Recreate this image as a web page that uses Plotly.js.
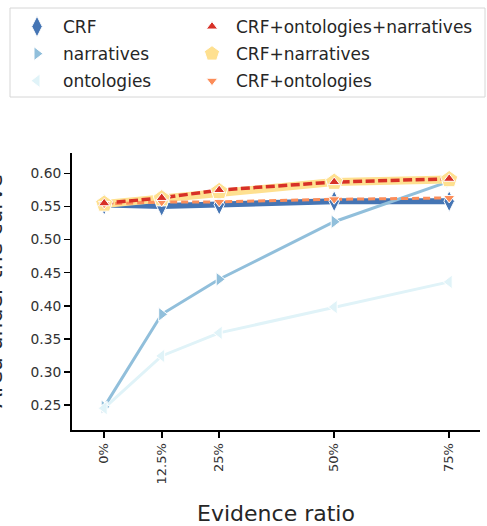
<!DOCTYPE html>
<html>
<head>
<meta charset="utf-8">
<script src="https://cdn.plot.ly/plotly-3.0.1.min.js"></script>
<style>html,body{margin:0;padding:0;background:#fff;}#chart{width:487px;height:526px;}</style>
</head>
<body>
<div id="chart"></div>
<script>
// ---- data ----
const evidenceRatio = [0, 12.5, 25, 50, 75];
const tickLabels = ['0%', '12.5%', '25%', '50%', '75%'];
const seriesNames = ['CRF', 'narratives', 'ontologies', 'CRF+ontologies+narratives', 'CRF+narratives', 'CRF+ontologies'];
const crf = [0.553, 0.551, 0.553, 0.558, 0.558];
const narratives = [0.247, 0.387, 0.440, 0.527, 0.588];
const ontologies = [0.245, 0.324, 0.359, 0.398, 0.436];
const crfOntNarr = [0.555, 0.563, 0.575, 0.587, 0.592];
const crfNarr = [0.554, 0.562, 0.573, 0.587, 0.591];
const crfOnt = [0.554, 0.557, 0.557, 0.561, 0.563];

// ---- styles ----
const FONT = 'DejaVu Sans, Liberation Sans, sans-serif';
const TXT = '#262626';
const styles = {
  'CRF': {y: crf, color: '#4575b4', width: 6, dash: 'solid', symbol: 'diamond-tall', size: 15, legend: 'legend', rank: 1},
  'narratives': {y: narratives, color: '#91bfdb', width: 3, dash: 'solid', symbol: 'triangle-right', size: 12, legend: 'legend', rank: 2},
  'ontologies': {y: ontologies, color: '#e0f3f8', width: 3, dash: 'solid', symbol: 'triangle-left', size: 12, legend: 'legend', rank: 3},
  'CRF+narratives': {y: crfNarr, color: '#fee090', width: 8, dash: 'solid', symbol: 'pentagon', size: 18, legend: 'legend2', rank: 2},
  'CRF+ontologies': {y: crfOnt, color: '#fc8d59', width: 3, dash: '7px,4px', symbol: 'triangle-down', size: 10, legend: 'legend2', rank: 3},
  'CRF+ontologies+narratives': {y: crfOntNarr, color: '#d73027', width: 3.5, dash: '9px,3.5px', symbol: 'triangle-up', size: 10, legend: 'legend2', rank: 1}
};
const lineOrder = ['CRF', 'narratives', 'ontologies', 'CRF+narratives', 'CRF+ontologies', 'CRF+ontologies+narratives'];
const markerOrder = ['CRF', 'narratives', 'ontologies', 'CRF+narratives', 'CRF+ontologies', 'CRF+ontologies+narratives'];

const traces = [];
lineOrder.forEach(name => {
  const s = styles[name];
  traces.push({
    x: evidenceRatio, y: s.y, type: 'scatter', mode: 'lines', name: name,
    line: {color: s.color, width: s.width, dash: s.dash},
    showlegend: false, hoverinfo: 'skip'
  });
});
markerOrder.forEach(name => {
  const s = styles[name];
  traces.push({
    x: evidenceRatio, y: s.y, type: 'scatter', mode: 'markers', name: name,
    marker: {color: s.color, symbol: s.symbol, size: s.size, line: {color: '#ffffff', width: 1}},
    legend: s.legend, legendrank: s.rank, legendgroup: name
  });
});

// plot-area pixel geometry
const L = 72, R = 7, T = 153, B = 96, W = 487, H = 526;
const pw = W - L - R, ph = H - T - B;
const px = v => (v - L) / pw;
const py = v => (H - B - v) / ph;

const legendCommon = {
  font: {family: FONT, size: 17, color: TXT},
  bgcolor: 'rgba(0,0,0,0)', borderwidth: 0,
  traceorder: 'grouped', tracegroupgap: 2,
  xanchor: 'left', yanchor: 'top', itemsizing: 'trace'
};

const layout = {
  width: W, height: H,
  margin: {l: L, r: R, t: T, b: B},
  paper_bgcolor: '#ffffff', plot_bgcolor: '#ffffff',
  font: {family: FONT, color: TXT},
  showlegend: true,
  xaxis: {
    range: [-7, 81.7], tickvals: evidenceRatio, ticktext: tickLabels,
    tickangle: -90, ticks: 'outside', ticklen: 6, tickwidth: 1.6, tickcolor: '#000',
    showline: true, linecolor: '#000', linewidth: 2, showgrid: false, zeroline: false,
    tickfont: {family: FONT, size: 13, color: '#333'},
    title: {text: 'Evidence ratio', font: {family: FONT, size: 22, color: TXT}, standoff: 24},
    automargin: false, fixedrange: true
  },
  yaxis: {
    range: [0.212, 0.631], dtick: 0.05, tick0: 0.25, tickformat: '.2f',
    ticks: 'outside', ticklen: 6, tickwidth: 1.6, tickcolor: '#000',
    showline: true, linecolor: '#000', linewidth: 2, showgrid: false, zeroline: false,
    tickfont: {family: FONT, size: 13.8, color: '#333'},
    automargin: false, fixedrange: true
  },
  legend: Object.assign({}, legendCommon, {x: px(11), y: py(9), itemwidth: 42}),
  legend2: Object.assign({}, legendCommon, {x: px(188), y: py(9), itemwidth: 38}),
  shapes: [{
    type: 'rect', xref: 'paper', yref: 'paper',
    x0: px(10), x1: px(485), y0: py(97), y1: py(8),
    line: {color: '#d6d6d6', width: 1}, fillcolor: 'rgba(0,0,0,0)', layer: 'below'
  }],
  annotations: [{
    text: 'Area under the curve', textangle: -90,
    xref: 'paper', yref: 'paper', x: px(9), y: py(291.5),
    xanchor: 'right', yanchor: 'middle', showarrow: false,
    font: {family: FONT, size: 22, color: TXT}
  }]
};

Plotly.newPlot('chart', traces, layout, {displayModeBar: false, staticPlot: true});
</script>
</body>
</html>
